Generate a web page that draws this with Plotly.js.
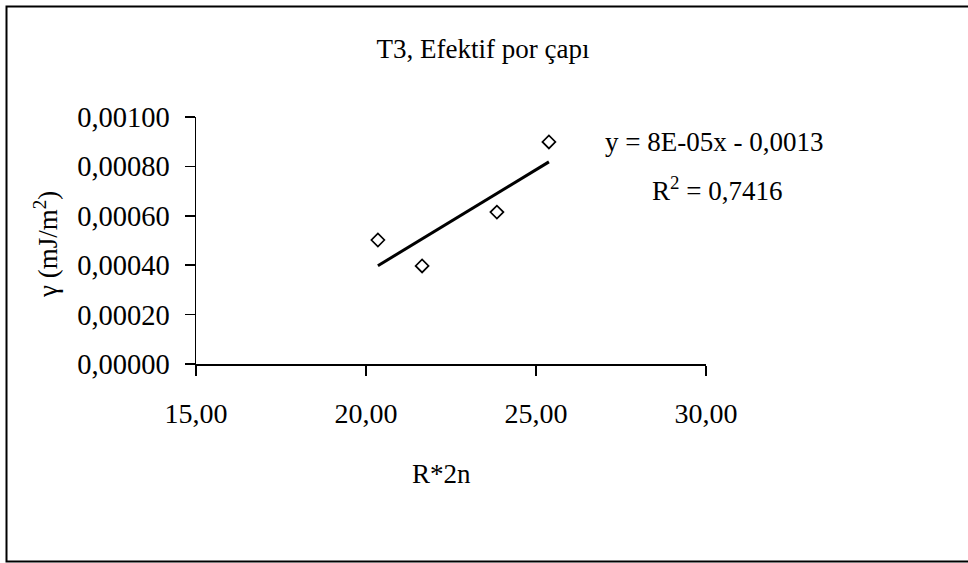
<!DOCTYPE html>
<html><head><meta charset="utf-8">
<script src="https://cdn.plot.ly/plotly-3.0.1.min.js"></script>
<style>html,body{margin:0;padding:0;background:#fff}</style>
</head><body>
<div id="chart" style="width:968px;height:563px"></div>
<script>
const rValues = [20.35, 21.65, 23.85, 25.38];
const gammaValues = [0.000502, 0.000397, 0.000615, 0.000899];
const xTickValues = [15, 20, 25, 30];
const yTickValues = [0, 0.0002, 0.0004, 0.0006, 0.0008, 0.001];
const chartTitle = 'T3, Efektif por çapı';
const xTitle = 'R*2n';
const yTitle = 'γ (mJ/m<sup>2</sup>)';
const equationText = 'y = 8E-05x - 0,0013';
const r2Text = 'R<sup>2</sup> = 0,7416';

// linear least-squares trendline from the data
const n = rValues.length;
const mx = rValues.reduce((a, b) => a + b, 0) / n;
const my = gammaValues.reduce((a, b) => a + b, 0) / n;
let sxy = 0, sxx = 0;
for (let i = 0; i < n; i++) { sxy += (rValues[i] - mx) * (gammaValues[i] - my); sxx += (rValues[i] - mx) ** 2; }
const slope = sxy / sxx, intercept = my - slope * mx;
const xMin = Math.min(...rValues), xMax = Math.max(...rValues);
const fitX = [xMin, xMax];
const fitY = fitX.map(x => slope * x + intercept);

const W = 968, H = 563, L = 196, R = 262, T = 117, B = 199;
const pw = W - L - R, ph = H - T - B;
const px = p => (p - L) / pw;
const py = p => (H - B - p) / ph;
const fam = '"Liberation Serif", "Times New Roman", serif';
const font = {family: fam, size: 27, color: '#000'};
const tickFontY = {family: fam, size: 28.5, color: '#000'};
const tickFontX = {family: fam, size: 28, color: '#000'};

const traces = [
  {x: fitX, y: fitY, mode: 'lines', line: {color: '#000', width: 3}, hoverinfo: 'skip', showlegend: false},
  {x: rValues, y: gammaValues, mode: 'markers', cliponaxis: false,
   marker: {symbol: 'diamond-open', size: 10, color: '#000', line: {width: 1.7, color: '#000'}}, showlegend: false}
];

const layout = {
  width: W, height: H,
  margin: {l: L, r: R, t: T, b: B, pad: 0},
  paper_bgcolor: '#fff', plot_bgcolor: '#fff',
  separators: ',.',
  font: font,
  title: {text: chartTitle, font: font, xref: 'container', yref: 'container', x: 483 / W, y: 1 - 49 / H, xanchor: 'center', yanchor: 'middle'},
  xaxis: {range: [15, 30], tickvals: xTickValues, tickformat: '.2f', showgrid: false, zeroline: false,
          showline: true, linecolor: '#000', linewidth: 1.5, ticks: 'outside', ticklen: 10, tickwidth: 1.5, tickcolor: '#000',
          ticklabelstandoff: 14, tickfont: tickFontX},
  yaxis: {range: [0, 0.001], tickvals: yTickValues, tickformat: '.5f', showgrid: false, zeroline: false,
          showline: true, linecolor: '#000', linewidth: 1.5, ticks: 'outside', ticklen: 10, tickwidth: 1.5, tickcolor: '#000',
          ticklabelstandoff: 9, tickfont: tickFontY},
  annotations: [
    {text: xTitle, xref: 'paper', yref: 'paper', x: px(441), y: py(474), xanchor: 'center', yanchor: 'middle', showarrow: false, font: font},
    {text: yTitle, xref: 'paper', yref: 'paper', x: px(46), y: py(245), xanchor: 'center', yanchor: 'middle', textangle: -90, showarrow: false, font: font},
    {text: equationText, xref: 'paper', yref: 'paper', x: px(714), y: py(142), xanchor: 'center', yanchor: 'middle', showarrow: false, font: font},
    {text: r2Text, xref: 'paper', yref: 'paper', x: px(717), y: py(189), xanchor: 'center', yanchor: 'middle', showarrow: false, font: font}
  ],
  shapes: [
    {type: 'rect', xref: 'paper', yref: 'paper', x0: px(6.5), x1: px(975), y0: py(561.5), y1: py(6.5),
     line: {color: '#000', width: 2}, fillcolor: 'rgba(0,0,0,0)', layer: 'above'}
  ]
};

Plotly.newPlot('chart', traces, layout, {displayModeBar: false, staticPlot: true});
</script>
</body></html>
